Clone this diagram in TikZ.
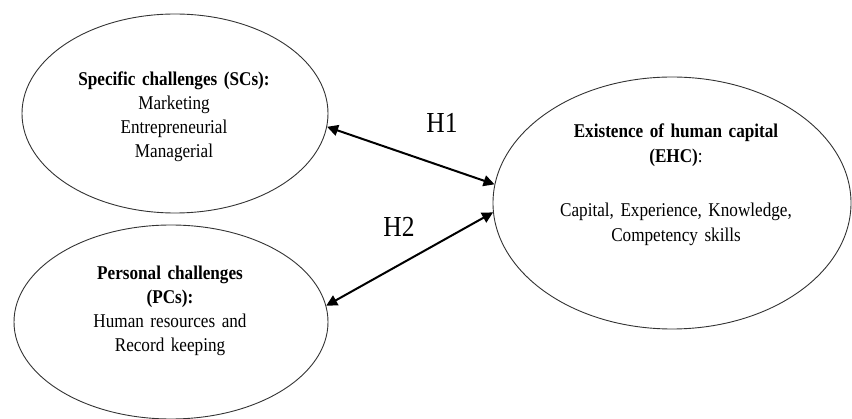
\documentclass[tikz,border=0pt]{standalone}
\usepackage{fontspec}
\usetikzlibrary{shapes.geometric,arrows.meta}
\newfontfamily\tnr[FakeStretch=0.88]{Liberation Serif}
\tikzset{
  oval/.style={ellipse, draw=black!80, line width=0.9pt, inner sep=0pt},
  body/.style={font=\tnr\fontsize{19.5}{24}\selectfont, text width=300pt, align=center, inner sep=0pt, anchor=base},
  hlabel/.style={font=\tnr\fontsize{29}{34}\selectfont, inner sep=0pt, anchor=base},
  link/.style={line width=2pt, {Triangle[length=11pt,width=11pt]}-{Triangle[length=11pt,width=11pt]}}
}
\begin{document}
\begin{tikzpicture}[x=1pt,y=-1pt]
\useasboundingbox (0,0) rectangle (852,419);
\node[oval, minimum width=306pt, minimum height=199pt] (sc) at (175,113.5) {};
\node[oval, minimum width=314pt, minimum height=194pt] (pc) at (171,322) {};
\node[oval, minimum width=358pt, minimum height=252pt] (ehc) at (672,203) {};
\node[body] (sct) at (174,86) {\textbf{Specific challenges (SCs):}\\ Marketing\\ Entrepreneurial\\ Managerial};
\node[body] (pct) at (170,280) {\textbf{Personal challenges}\\ \textbf{(PCs):}\\ Human resources and\\ Record keeping};
\node[body, font=\tnr\fontsize{19.5}{25}\selectfont] (ehct) at (676,138) {\textbf{Existence of human capital}\\ \textbf{(EHC)}:\\[29pt] Capital, Experience, Knowledge,\\ Competency skills};
\node[hlabel] (h1) at (442,133) {H1};
\node[hlabel] (h2) at (399,237) {H2};
\draw[link] (sc.-5.5) -- (ehc.174.9);
\draw[link] (pc.6.2) -- (ehc.183.2);
\end{tikzpicture}
\end{document}
